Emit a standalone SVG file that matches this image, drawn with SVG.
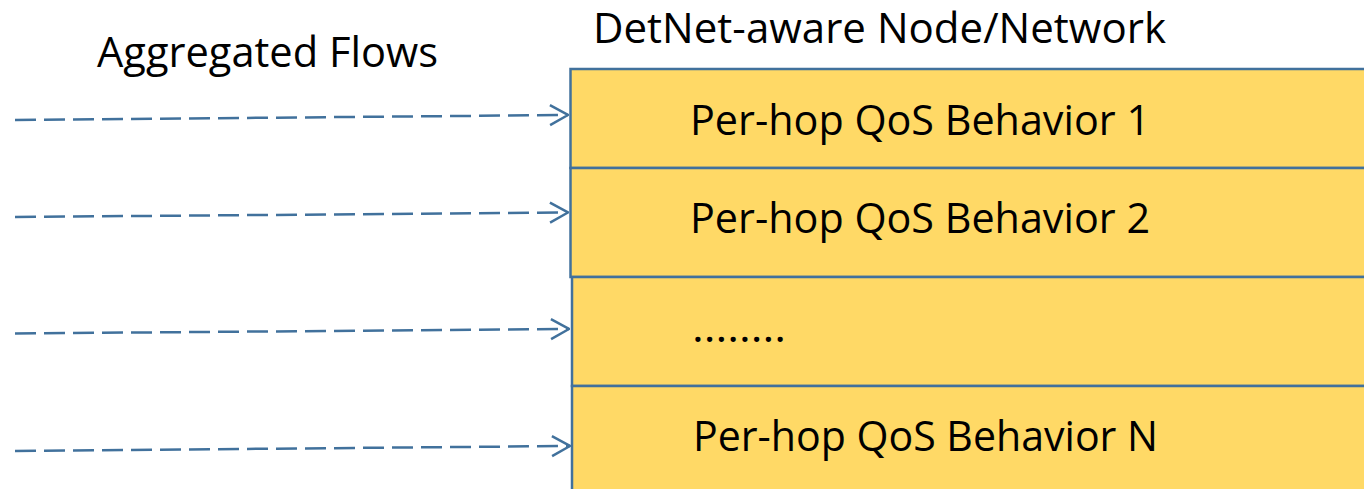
<svg xmlns="http://www.w3.org/2000/svg" width="1364" height="489" viewBox="0 0 1364 489">
<style>
.box{fill:#FFD966;stroke:#41719C;stroke-width:2.5}
.lbl{font-family:"Open Sans","Liberation Sans",sans-serif;font-size:41.5px;fill:#000}
.flow{fill:none;stroke:#41719C;stroke-width:2.5;stroke-dasharray:21 8}
</style>
<defs>
<marker id="arr" markerUnits="userSpaceOnUse" viewBox="0 0 20 24" refX="19" refY="12" markerWidth="20" markerHeight="24" orient="auto">
<path d="M1,2 L19,12 L1,22" fill="none" stroke="#41719C" stroke-width="2.5"/>
</marker>
</defs>
<rect width="1364" height="489" fill="#fff"/>
<text class="lbl" x="97" y="67" textLength="341" lengthAdjust="spacingAndGlyphs">Aggregated Flows</text>
<text class="lbl" x="593" y="43" textLength="573" lengthAdjust="spacingAndGlyphs">DetNet-aware Node/Network</text>
<g id="node-b1"><rect class="box" x="570.5" y="69" width="800" height="99"/><text class="lbl" x="690" y="135" textLength="460" lengthAdjust="spacingAndGlyphs">Per-hop QoS Behavior 1</text></g>
<g id="node-b2"><rect class="box" x="570.5" y="168" width="800" height="109"/><text class="lbl" x="690" y="233" textLength="460" lengthAdjust="spacingAndGlyphs">Per-hop QoS Behavior 2</text></g>
<g id="node-b3"><rect class="box" x="572" y="277" width="800" height="109"/><text class="lbl" x="692" y="342" textLength="94" lengthAdjust="spacingAndGlyphs">........</text></g>
<g id="node-b4"><rect class="box" x="572" y="386" width="800" height="110"/><text class="lbl" x="693" y="451" textLength="465" lengthAdjust="spacingAndGlyphs">Per-hop QoS Behavior N</text></g>
<g id="connectors">
<path class="flow" d="M15,120 L568,115" marker-end="url(#arr)"/>
<path class="flow" d="M15,217 L568,212.5" marker-end="url(#arr)"/>
<path class="flow" d="M15,333.5 L569,329" marker-end="url(#arr)"/>
<path class="flow" d="M15,451 L570,446" marker-end="url(#arr)"/>
</g>
</svg>
